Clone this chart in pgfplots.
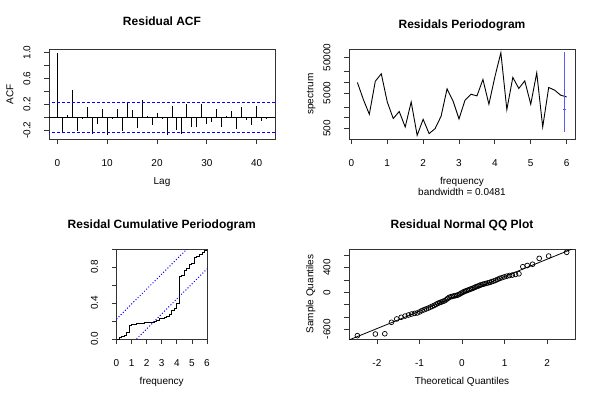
\documentclass[border=0pt]{standalone}
\usepackage{pgfplots}
\pgfplotsset{compat=1.18}
\usepackage{fontspec}
\setmainfont{Liberation Sans}
\pgfplotsset{
  rbase/.style={
    scale only axis, height=90pt,
    axis line style={black!80, line width=0.8pt},
    every tick/.style={black!80, line width=0.8pt},
    tick align=outside, major tick length=5pt,
    xtick pos=bottom, ytick pos=left,
    xminorticks=false, yminorticks=false,
    tick label style={font=\fontsize{10}{12}\selectfont},
    xticklabel style={anchor=base, inner sep=0pt},
    xticklabel shift=22.5pt,
    yticklabel style={rotate=90, anchor=base, inner sep=0pt},
    yticklabel shift=13.7pt,
    /pgf/number format/assume math mode=true,
    anchor=south west,
  },
}
\begin{document}
\begin{tikzpicture}[x=1pt,y=1pt]
\path[use as bounding box] (0,0) rectangle (600,400);
% Panel 1: ACF
\begin{axis}[rbase, at={(49pt,261pt)}, width=226pt,
  xmin=-1.68, xmax=43.68, ymin=-0.336, ymax=1.055,
  xtick={0,10,20,30,40}, xticklabels={0,10,20,30,40},
  ytick={-0.2,0,0.2,0.4,0.6,0.8,1.0}, yticklabels={-0.2,,0.2,,0.6,,1.0}]
\addplot[ycomb, black, line width=0.9pt, mark=none] coordinates {
(0,1.0) (1,-0.25) (2,0.03) (3,0.42) (4,-0.22) (5,-0.03) (6,0.155) (7,-0.26)
(8,-0.10) (9,0.13) (10,-0.28) (11,-0.03) (12,0.12) (13,-0.21) (14,0.22)
(15,0.11) (16,-0.17) (17,0.27) (18,0.015) (19,-0.12) (20,0.07) (21,-0.02)
(22,-0.27) (23,0.18) (24,-0.196) (25,-0.26) (26,0.20) (27,-0.145) (28,-0.155)
(29,0.20) (30,-0.11) (31,-0.07) (32,0.12) (33,-0.145) (34,0.02) (35,0.10)
(36,-0.18) (37,0.155) (38,-0.04) (39,-0.12) (40,0.17) (41,-0.055) (42,-0.03)};
\addplot[black, line width=0.8pt] coordinates {(-5,0) (50,0)};
\addplot[blue, line width=0.9pt, dash pattern=on 3pt off 2pt] coordinates {(-5,0.232) (50,0.232)};
\addplot[blue, line width=0.9pt, dash pattern=on 3pt off 2pt] coordinates {(-5,-0.232) (50,-0.232)};
\end{axis}
% Panel 2: periodogram
\begin{axis}[rbase, at={(349pt,261pt)}, width=226pt,
  ymode=log, xmin=-0.0667, xmax=6.2333, ymin=255, ymax=86000,
  xtick={0,1,2,3,4,5,6}, xticklabels={0,1,2,3,4,5,6},
  ytick={500,1000,2000,5000,10000,20000,50000}, yticklabels={500,,,5000,,,50000}]
\addplot[black, line width=0.9pt, mark=none] coordinates {
(0.1667,9900) (0.3333,3280) (0.5,1265) (0.6667,10700) (0.8333,17300) (1.0,2800)
(1.1667,957) (1.3333,1510) (1.5,555) (1.6667,2800) (1.8333,324) (2.0,910)
(2.1667,361) (2.3333,500) (2.5,1110) (2.6667,6530) (2.8333,2990) (3.0,933)
(3.1667,3130) (3.3333,4620) (3.5,4140) (3.6667,12000) (3.8333,2420) (4.0,14200)
(4.1667,67500) (4.3333,1710) (4.5,13700) (4.6667,6700) (4.8333,10960) (5.0,2420)
(5.1667,18400) (5.3333,555) (5.5,7140) (5.6667,6000) (5.8333,4330) (6.0,3880)};
\addplot[blue!65, line width=1pt, mark=none] coordinates {(5.952,401) (5.952,69000)};
\addplot[blue!65, only marks, mark=-, mark size=1.5pt, mark options={line width=1pt}] coordinates {(5.952,1715)};
\end{axis}
% Panel 3: cumulative periodogram
\begin{axis}[rbase, at={(116.5pt,61pt)}, width=90.5pt,
  xmin=0, xmax=6, ymin=0, ymax=1,
  xtick={0,1,2,3,4,5,6}, xticklabels={0,1,2,3,4,5,6},
  ytick={0,0.2,0.4,0.6,0.8,1.0}, yticklabels={0.0,,0.4,,0.8,}]
\addplot[const plot, black, line width=0.9pt, mark=none] coordinates {
(0,0) (0.1667,0.02) (0.3333,0.03) (0.5,0.035) (0.6667,0.07) (0.8333,0.15)
(1.0,0.158) (1.1667,0.162) (1.3333,0.168) (1.5,0.170) (1.6667,0.178) (1.8333,0.180)
(2.0,0.183) (2.1667,0.185) (2.3333,0.187) (2.5,0.190) (2.6667,0.21) (2.8333,0.225)
(3.0,0.23) (3.1667,0.24) (3.3333,0.255) (3.5,0.27) (3.6667,0.32) (3.8333,0.335)
(4.0,0.40) (4.1667,0.70) (4.3333,0.71) (4.5,0.76) (4.6667,0.785) (4.8333,0.83)
(5.0,0.84) (5.1667,0.91) (5.3333,0.913) (5.5,0.94) (5.6667,0.965) (5.8333,0.985) (6.0,1.0)};
\addplot[blue, line width=1pt, dash pattern=on 1pt off 2pt] coordinates {(0,0.2212) (4.673,1)};
\addplot[blue, line width=1pt, dash pattern=on 1pt off 2pt] coordinates {(1.327,0) (6,0.7788)};
\end{axis}
% Panel 4: QQ plot
\begin{axis}[rbase, at={(349pt,61pt)}, width=226pt,
  xmin=-2.657, xmax=2.657, ymin=-757, ymax=702,
  xtick={-2,-1,0,1,2}, xticklabels={-2,-1,0,1,2},
  ytick={-600,-400,-200,0,200,400,600}, yticklabels={-600,,,0,,400,}]
\addplot[black, only marks, mark=o, mark size=2.4pt, mark options={line width=0.7pt}] coordinates {
(-2.4606,-703) (-2.0365,-676) (-1.8153,-672) (-1.6584,-486) (-1.5341,-432) (-1.4297,-405)
(-1.3391,-385) (-1.2581,-368) (-1.1848,-352) (-1.1170,-342) (-1.0545,-335) (-0.9957,-318)
(-0.9401,-296) (-0.8871,-282) (-0.8369,-268) (-0.7882,-255) (-0.7416,-240) (-0.6967,-226)
(-0.6529,-212) (-0.6103,-196) (-0.5690,-180) (-0.5284,-168) (-0.4888,-158) (-0.4499,-148)
(-0.4116,-138) (-0.3739,-122) (-0.3366,-100) (-0.2998,-82) (-0.2634,-72) (-0.2273,-66)
(-0.1917,-60) (-0.1573,-55) (-0.1222,-50) (-0.0872,-40) (-0.0522,-28) (-0.0174,-14)
(0.0174,0) (0.0522,12) (0.0872,22) (0.1222,30) (0.1573,40) (0.1917,50)
(0.2273,58) (0.2634,68) (0.2998,80) (0.3366,92) (0.3739,100) (0.4116,112)
(0.4499,122) (0.4888,130) (0.5284,138) (0.5690,145) (0.6103,152) (0.6529,160)
(0.6967,172) (0.7416,182) (0.7882,194) (0.8369,210) (0.8871,225) (0.9401,238)
(0.9957,250) (1.0545,262) (1.1170,272) (1.1848,280) (1.2581,290) (1.3391,300)
(1.4297,415) (1.5341,435) (1.6584,455) (1.8153,550) (2.0365,588) (2.4606,648)};
\addplot[black, line width=0.8pt, mark=none] coordinates {(-2.8,-813) (2.8,761)};
\end{axis}
% Titles and labels
\begin{scope}[every node/.style={inner sep=0pt}]
\node[anchor=base, font=\fontsize{12}{14}\selectfont\bfseries] at (162,374) {Residual ACF};
\node[anchor=base, font=\fontsize{12}{14}\selectfont\bfseries] at (462,371.7) {Residals Periodogram};
\node[anchor=base, font=\fontsize{12}{14}\selectfont\bfseries] at (161.7,171.7) {Residal Cumulative Periodogram};
\node[anchor=base, font=\fontsize{12}{14}\selectfont\bfseries] at (462,171.7) {Residual Normal QQ Plot};
\node[anchor=base, font=\fontsize{10}{12}\selectfont] at (162,215.7) {Lag};
\node[anchor=base, font=\fontsize{10}{12}\selectfont] at (462,215.7) {frequency};
\node[anchor=base, font=\fontsize{10}{12}\selectfont] at (462,204.7) {bandwidth = 0.0481};
\node[anchor=base, font=\fontsize{10}{12}\selectfont] at (161.7,15.7) {frequency};
\node[anchor=base, font=\fontsize{10}{12}\selectfont] at (462,15.7) {Theoretical Quantiles};
\node[anchor=base, rotate=90, font=\fontsize{10}{12}\selectfont] at (13.3,306) {ACF};
\node[anchor=base, rotate=90, font=\fontsize{10}{12}\selectfont] at (313.3,306) {spectrum};
\node[anchor=base, rotate=90, font=\fontsize{10}{12}\selectfont] at (313.3,106) {Sample Quantiles};
\end{scope}
\end{tikzpicture}
\end{document}
